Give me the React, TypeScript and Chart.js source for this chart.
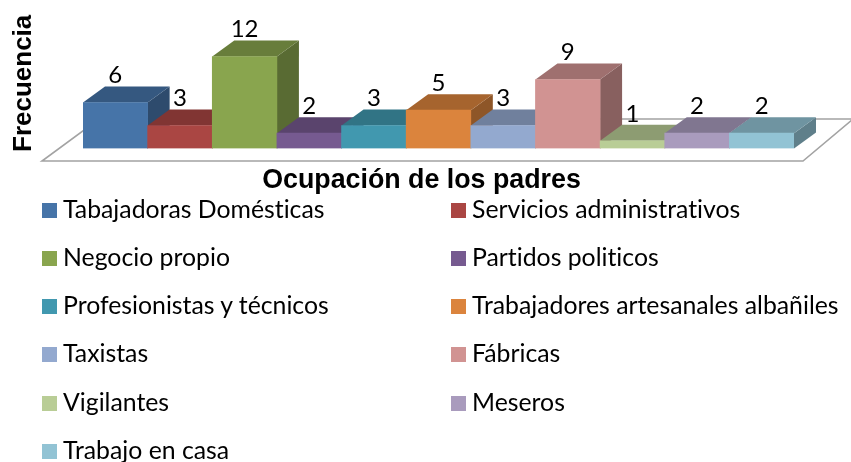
import React, { useEffect, useRef } from "react";
import { Chart, registerables } from "chart.js";

Chart.register(...registerables);

const categories = [
  "Tabajadoras Domésticas",
  "Servicios administrativos",
  "Negocio propio",
  "Partidos politicos",
  "Profesionistas y técnicos",
  "Trabajadores artesanales albañiles",
  "Taxistas",
  "Fábricas",
  "Vigilantes",
  "Meseros",
  "Trabajo en casa",
];
const values = [6, 3, 12, 2, 3, 5, 3, 9, 1, 2, 2];
const colors = [
  "#4674A8", "#AA4643", "#89A54E", "#765A90", "#4198AF", "#DB843D",
  "#93A9CF", "#D19392", "#B9CD96", "#A99BBD", "#92C3D4",
];
const xTitle = "Ocupación de los padres";
const yTitle = "Frecuencia";

const DEPTH_X = 22;
const DEPTH_Y = 16;

function shade(hex: string, f: number) {
  const n = parseInt(hex.slice(1), 16);
  const c = [(n >> 16) & 255, (n >> 8) & 255, n & 255].map((v) => Math.round(v * f));
  return `rgb(${c[0]},${c[1]},${c[2]})`;
}

function poly(ctx: CanvasRenderingContext2D, pts: number[][], fill: string | null, stroke?: string, lw?: number) {
  ctx.beginPath();
  pts.forEach((p, i) => (i ? ctx.lineTo(p[0], p[1]) : ctx.moveTo(p[0], p[1])));
  ctx.closePath();
  if (fill) {
    ctx.fillStyle = fill;
    ctx.fill();
  }
  if (stroke) {
    ctx.strokeStyle = stroke;
    ctx.lineWidth = lw || 1;
    ctx.stroke();
  }
}

const bars3d = {
  id: "bars3d",
  beforeDatasetsDraw(chart: any) {
    const ctx = chart.ctx;
    const { left, right } = chart.chartArea;
    const base = chart.scales.y.getPixelForValue(0);
    ctx.save();
    // floor
    poly(
      ctx,
      [
        [left - 41, base + 12.5],
        [right + 9, base + 12.5],
        [right + 59, base - 29.5],
        [left + 16, base - 29.5],
      ],
      "#ffffff",
      "#A3A3A3",
      1.6
    );
    // tops and sides, left to right
    chart.getDatasetMeta(0).data.forEach((el: any, i: number) => {
      const p = el.getProps(["x", "y", "width", "base"], true);
      const l = p.x - p.width / 2;
      const r = p.x + p.width / 2;
      poly(ctx, [[r, p.y], [r + DEPTH_X, p.y - DEPTH_Y], [r + DEPTH_X, p.base - DEPTH_Y], [r, p.base]], shade(colors[i], 0.65));
      poly(ctx, [[l, p.y], [l + DEPTH_X, p.y - DEPTH_Y], [r + DEPTH_X, p.y - DEPTH_Y], [r, p.y]], shade(colors[i], 0.76));
    });
    ctx.restore();
  },
  afterDatasetsDraw(chart: any) {
    const ctx = chart.ctx;
    ctx.save();
    ctx.fillStyle = "#000";
    ctx.textAlign = "center";
    ctx.textBaseline = "middle";
    ctx.font = '24px Lato';
    chart.getDatasetMeta(0).data.forEach((el: any, i: number) => {
      const p = el.getProps(["x", "y"], true);
      ctx.fillText(String(values[i]), p.x, p.y - DEPTH_Y - 11);
    });
    ctx.font = 'bold 26.8px "Liberation Sans"';
    ctx.fillText(xTitle, 421.5, 181);
    ctx.restore();
  },
};

export default function App() {
  const ref = useRef<HTMLCanvasElement>(null);
  useEffect(() => {
    const chart = new Chart(ref.current!, {
      type: "bar",
      data: {
        labels: categories,
        datasets: [
          {
            data: values,
            backgroundColor: colors,
            borderWidth: 0,
            barPercentage: 1,
            categoryPercentage: 1,
          },
        ],
      },
      options: {
        animation: false,
        responsive: false,
        layout: { padding: { left: 0, right: 57, top: 18.17, bottom: 313.5 } },
        plugins: { legend: { display: false }, tooltip: { enabled: false } },
        scales: {
          x: { display: false },
          y: {
            min: 0,
            max: 17,
            grid: { display: false },
            border: { display: false },
            ticks: { display: false },
            title: {
              display: true,
              text: yTitle,
              color: "#000",
              font: { family: "Liberation Sans", weight: "bold", size: 26 },
              padding: { top: 8, bottom: 44 },
            },
            afterFit(scale: any) {
              scale.width = 83;
            },
          },
        },
      },
      plugins: [bars3d],
    } as any);
    return () => chart.destroy();
  }, []);

  return (
    <div style={{ position: "absolute", left: 0, top: 0, width: 851, height: 462, overflow: "hidden", background: "#fff" }}>
      <canvas ref={ref} width={851} height={462} style={{ display: "block" }} />
      {categories.map((c, i) => {
        const col = i % 2;
        const row = Math.floor(i / 2);
        const cy = 210.5 + row * 48.15;
        const sx = col ? 451 : 42;
        return (
          <React.Fragment key={c}>
            <div style={{ position: "absolute", left: sx, top: cy - 7.5, width: 15, height: 15, background: colors[i] }} />
            <div
              style={{
                position: "absolute",
                left: sx + 21,
                top: cy - 16.5,
                height: 30,
                lineHeight: "30px",
                fontFamily: "Lato",
                fontSize: 24.8,
                fontVariantLigatures: "none",
                color: "#000",
                whiteSpace: "nowrap",
              }}
            >
              {c}
            </div>
          </React.Fragment>
        );
      })}
    </div>
  );
}
